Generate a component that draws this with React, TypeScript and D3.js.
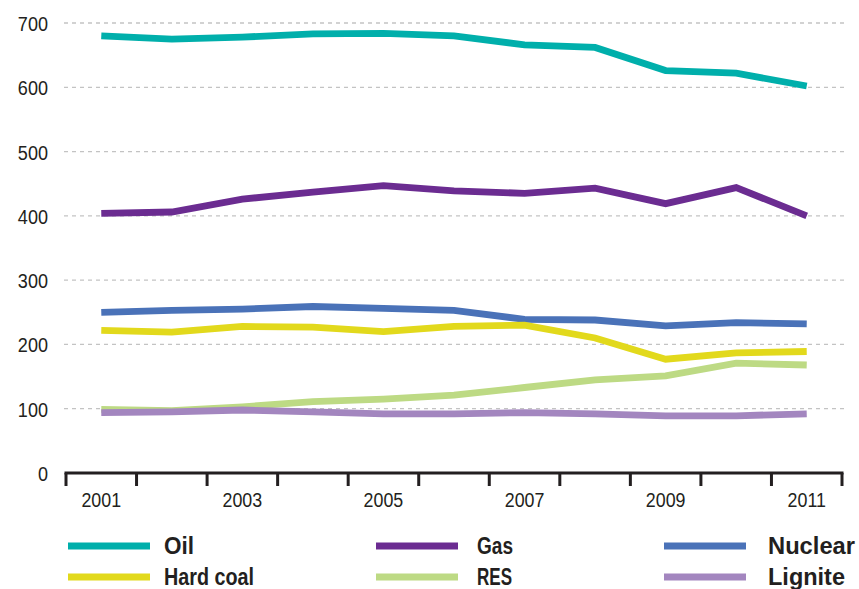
import React from 'react';
import * as d3 from 'd3';

const years = [2001, 2002, 2003, 2004, 2005, 2006, 2007, 2008, 2009, 2010, 2011];
const yearLabels = [2001, 2003, 2005, 2007, 2009, 2011];
const yTicks = [0, 100, 200, 300, 400, 500, 600, 700];

const oil = [680, 675, 678, 683, 684, 680, 666, 662, 626, 622, 602];
const gas = [404, 406, 426, 437, 447, 439, 435, 443, 419, 444, 400];
const nuclear = [250, 253, 255, 259, 256, 253, 239, 238, 229, 234, 232];
const hardCoal = [222, 219, 228, 227, 220, 228, 230, 210, 177, 187, 189];
const res = [99, 97, 103, 111, 115, 121, 133, 145, 151, 171, 168];
const lignite = [94, 95, 98, 95, 92, 92, 94, 92, 89, 89, 92];

const series = [
  { name: 'Oil', values: oil, color: '#00afab' },
  { name: 'Gas', values: gas, color: '#6b2c91' },
  { name: 'Nuclear', values: nuclear, color: '#4a72b8' },
  { name: 'Hard coal', values: hardCoal, color: '#e2d91c' },
  { name: 'RES', values: res, color: '#bdda84' },
  { name: 'Lignite', values: lignite, color: '#a386bf' },
];

const ink = '#231f20';
const font = '"Liberation Sans", Arial, sans-serif';

// measured widths of the legend words in the original (condensed face)
const legendTextWidth: Record<string, number> = {
  Oil: 30,
  Gas: 36,
  Nuclear: 87,
  'Hard coal': 90,
  RES: 35,
  Lignite: 77,
};

const App: React.FC = () => {
  const width = 859;
  const height = 589;

  const x = d3.scaleBand<number>().domain(years).range([66, 842]).padding(0);
  const bw = x.bandwidth();
  const cx = (yr: number) => (x(yr) ?? 0) + bw / 2;
  const y = d3.scaleLinear().domain([0, 700]).range([473, 23]);

  const line = d3
    .line<number>()
    .x((_, i) => cx(years[i]))
    .y((d) => y(d));

  const tickXs = [...years.map((yr) => x(yr) ?? 0), 842];

  // legend: 3 columns x 2 rows, filled row-wise
  const legendCols = [68, 376, 664];
  const legendTextX = [164, 477, 768];
  const legendRowY = [546, 577];

  return (
    <svg
      width={width}
      height={height}
      style={{ position: 'absolute', left: 0, top: 0, background: '#fff' }}
    >
      {/* gridlines */}
      {yTicks.filter((t) => t > 0).map((t) => (
        <line
          key={t}
          x1={64}
          x2={846}
          y1={y(t)}
          y2={y(t)}
          stroke="#c3c3c3"
          strokeWidth={1.3}
          strokeDasharray="4,4"
        />
      ))}

      {/* y labels */}
      {yTicks.map((t) => (
        <text
          key={t}
          transform={`translate(48,${y(t) + 8}) scale(0.86,1)`}
          textAnchor="end"
          fontFamily={font}
          fontSize={21}
          fill={ink}
        >
          {t}
        </text>
      ))}

      {/* series */}
      {series.map((s) => (
        <path
          key={s.name}
          d={line(s.values) || ''}
          fill="none"
          stroke={s.color}
          strokeWidth={6.8}
          strokeLinejoin="miter"
          strokeLinecap="butt"
        />
      ))}

      {/* x axis */}
      <line x1={64.5} x2={843.5} y1={y(0)} y2={y(0)} stroke={ink} strokeWidth={3} />
      {tickXs.map((tx, i) => (
        <line key={i} x1={tx} x2={tx} y1={y(0)} y2={y(0) + 13} stroke={ink} strokeWidth={3} />
      ))}
      {yearLabels.map((yr) => (
        <text
          key={yr}
          transform={`translate(${cx(yr)},507) scale(0.85,1)`}
          textAnchor="middle"
          fontFamily={font}
          fontSize={21}
          fill={ink}
        >
          {yr}
        </text>
      ))}

      {/* legend */}
      {series.map((s, i) => {
        const col = i % 3;
        const row = Math.floor(i / 3);
        const ly = legendRowY[row];
        return (
          <g key={s.name}>
            <line
              x1={legendCols[col]}
              x2={legendCols[col] + 82}
              y1={ly}
              y2={ly}
              stroke={s.color}
              strokeWidth={7}
            />
            <text
              x={legendTextX[col]}
              y={ly + 8}
              textLength={legendTextWidth[s.name]}
              lengthAdjust="spacingAndGlyphs"
              fontFamily={font}
              fontSize={23}
              fontWeight="bold"
              fill={ink}
            >
              {s.name}
            </text>
          </g>
        );
      })}
    </svg>
  );
};

export default App;
